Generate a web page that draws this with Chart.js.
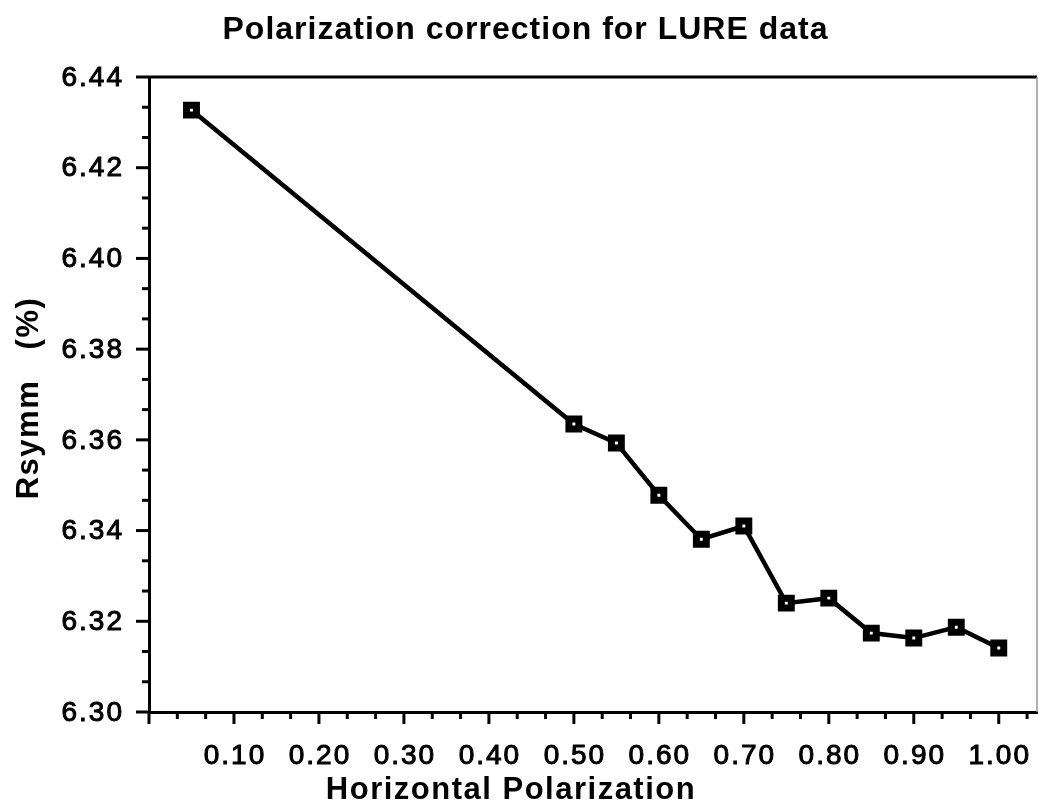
<!DOCTYPE html>
<html>
<head>
<meta charset="utf-8">
<script src="https://cdn.jsdelivr.net/npm/chart.js@4/dist/chart.umd.min.js"></script>
<style>
  html, body { margin: 0; padding: 0; background: #fff; }
  #wrap { width: 1051px; height: 811px; }
</style>
</head>
<body>
<div id="wrap"><canvas id="chartPol"></canvas></div>
<script>
// horizontal polarization fraction vs Rsymm
const polarization = [0.05, 0.50, 0.55, 0.60, 0.65, 0.70, 0.75, 0.80, 0.85, 0.90, 0.95, 1.00];
const rsymm = [6.4327, 6.3635, 6.3593, 6.3478, 6.3381, 6.3410, 6.3240, 6.3251, 6.3174, 6.3163, 6.3187, 6.3141];

const xTickValues = [0.1, 0.2, 0.3, 0.4, 0.5, 0.6, 0.7, 0.8, 0.9, 1.0];
const xTickLabels = ["0.10", "0.20", "0.30", "0.40", "0.50", "0.60", "0.70", "0.80", "0.90", "1.00"];
const yTickValues = [6.30, 6.32, 6.34, 6.36, 6.38, 6.40, 6.42, 6.44];
const yTickLabels = ["6.30", "6.32", "6.34", "6.36", "6.38", "6.40", "6.42", "6.44"];

const FONT = "'Liberation Sans', Arial, Helvetica, sans-serif";

// old plotting program look: all text slightly tracked out
const tracking = {
  id: "tracking",
  beforeDraw(chart) {
    chart.ctx.letterSpacing = "1px";
  }
};

// ticks, tick labels and axis titles drawn by hand (two tick lengths)
const axisDecor = {
  id: "axisDecor",
  afterDraw(chart) {
    const ctx = chart.ctx;
    const xs = chart.scales.x, ys = chart.scales.y;
    const area = chart.chartArea;
    ctx.save();
    ctx.strokeStyle = "#000";
    ctx.lineWidth = 3;

    // frame: top and right
    ctx.beginPath();
    ctx.moveTo(area.left, area.top);
    ctx.lineTo(area.right, area.top);
    ctx.stroke();
    ctx.strokeStyle = "#999";
    ctx.lineWidth = 1.5;
    ctx.beginPath();
    ctx.moveTo(area.right, area.top);
    ctx.lineTo(area.right, area.bottom);
    ctx.stroke();

    ctx.strokeStyle = "#000";
    ctx.lineWidth = 3;
    // y ticks, three steps per labelled interval
    for (let i = 0; i <= 21; i++) {
      const v = 6.30 + i * 0.02 / 3;
      const py = ys.getPixelForValue(v);
      const len = i % 3 === 0 ? 13 : 7;
      ctx.beginPath();
      ctx.moveTo(area.left, py);
      ctx.lineTo(area.left - len, py);
      ctx.stroke();
    }
    // x ticks, three steps per labelled interval
    for (let i = 0; i <= 31; i++) {
      const v = i * 0.1 / 3;
      if (v > xs.max) break;
      const px = xs.getPixelForValue(v);
      const len = i % 3 === 0 ? 12 : 7;
      ctx.beginPath();
      ctx.moveTo(px, area.bottom);
      ctx.lineTo(px, area.bottom + len);
      ctx.stroke();
    }

    ctx.fillStyle = "#000";
    ctx.strokeStyle = "#000";
    ctx.lineWidth = 1;
    ctx.letterSpacing = "2px";
    ctx.font = "28px " + FONT;
    ctx.textBaseline = "middle";
    ctx.textAlign = "right";
    yTickValues.forEach((v, i) => {
      const py = ys.getPixelForValue(v) + 1;
      ctx.fillText(yTickLabels[i], area.left - 25, py);
      ctx.strokeText(yTickLabels[i], area.left - 25, py);
    });
    ctx.textAlign = "center";
    xTickValues.forEach((v, i) => {
      const px = xs.getPixelForValue(v) + 1;
      ctx.fillText(xTickLabels[i], px, 756);
      ctx.strokeText(xTickLabels[i], px, 756);
    });

    // axis titles
    ctx.letterSpacing = "1.5px";
    ctx.font = "bold 31px " + FONT;
    ctx.fillText("Horizontal Polarization", 511, 790);
    ctx.translate(29, 398);
    ctx.rotate(-Math.PI / 2);
    ctx.fillText("Rsymm   (%)", 0, 0);
    ctx.restore();
  }
};

new Chart(document.getElementById("chartPol"), {
  type: "line",
  data: {
    datasets: [{
      data: polarization.map((x, i) => ({ x: x, y: rsymm[i] })),
      borderColor: "#000",
      borderWidth: 4.5,
      pointStyle: "rect",
      pointRadius: 7,
      pointBorderWidth: 7,
      pointBackgroundColor: "#fff",
      pointBorderColor: "#000",
      tension: 0,
      clip: false
    }]
  },
  options: {
    responsive: true,
    maintainAspectRatio: false,
    animation: false,
    layout: { padding: 0 },
    plugins: {
      legend: { display: false },
      tooltip: { enabled: false },
      title: {
        display: true,
        text: "Polarization correction for LURE data",
        color: "#000",
        font: { family: FONT, size: 32, weight: "bold", lineHeight: 1.2 },
        padding: { top: 11, bottom: 27.6 }
      }
    },
    scales: {
      x: {
        type: "linear",
        min: 0,
        max: 1.045,
        grid: { display: false },
        ticks: { display: false },
        border: { display: true, color: "#000", width: 3 },
        afterFit(scale) { scale.height = 99; }
      },
      y: {
        type: "linear",
        min: 6.30,
        max: 6.44,
        grid: { display: false },
        ticks: { display: false },
        border: { display: true, color: "#000", width: 3 },
        afterFit(scale) { scale.width = 149; }
      }
    }
  },
  plugins: [tracking, axisDecor]
});
</script>
</body>
</html>
